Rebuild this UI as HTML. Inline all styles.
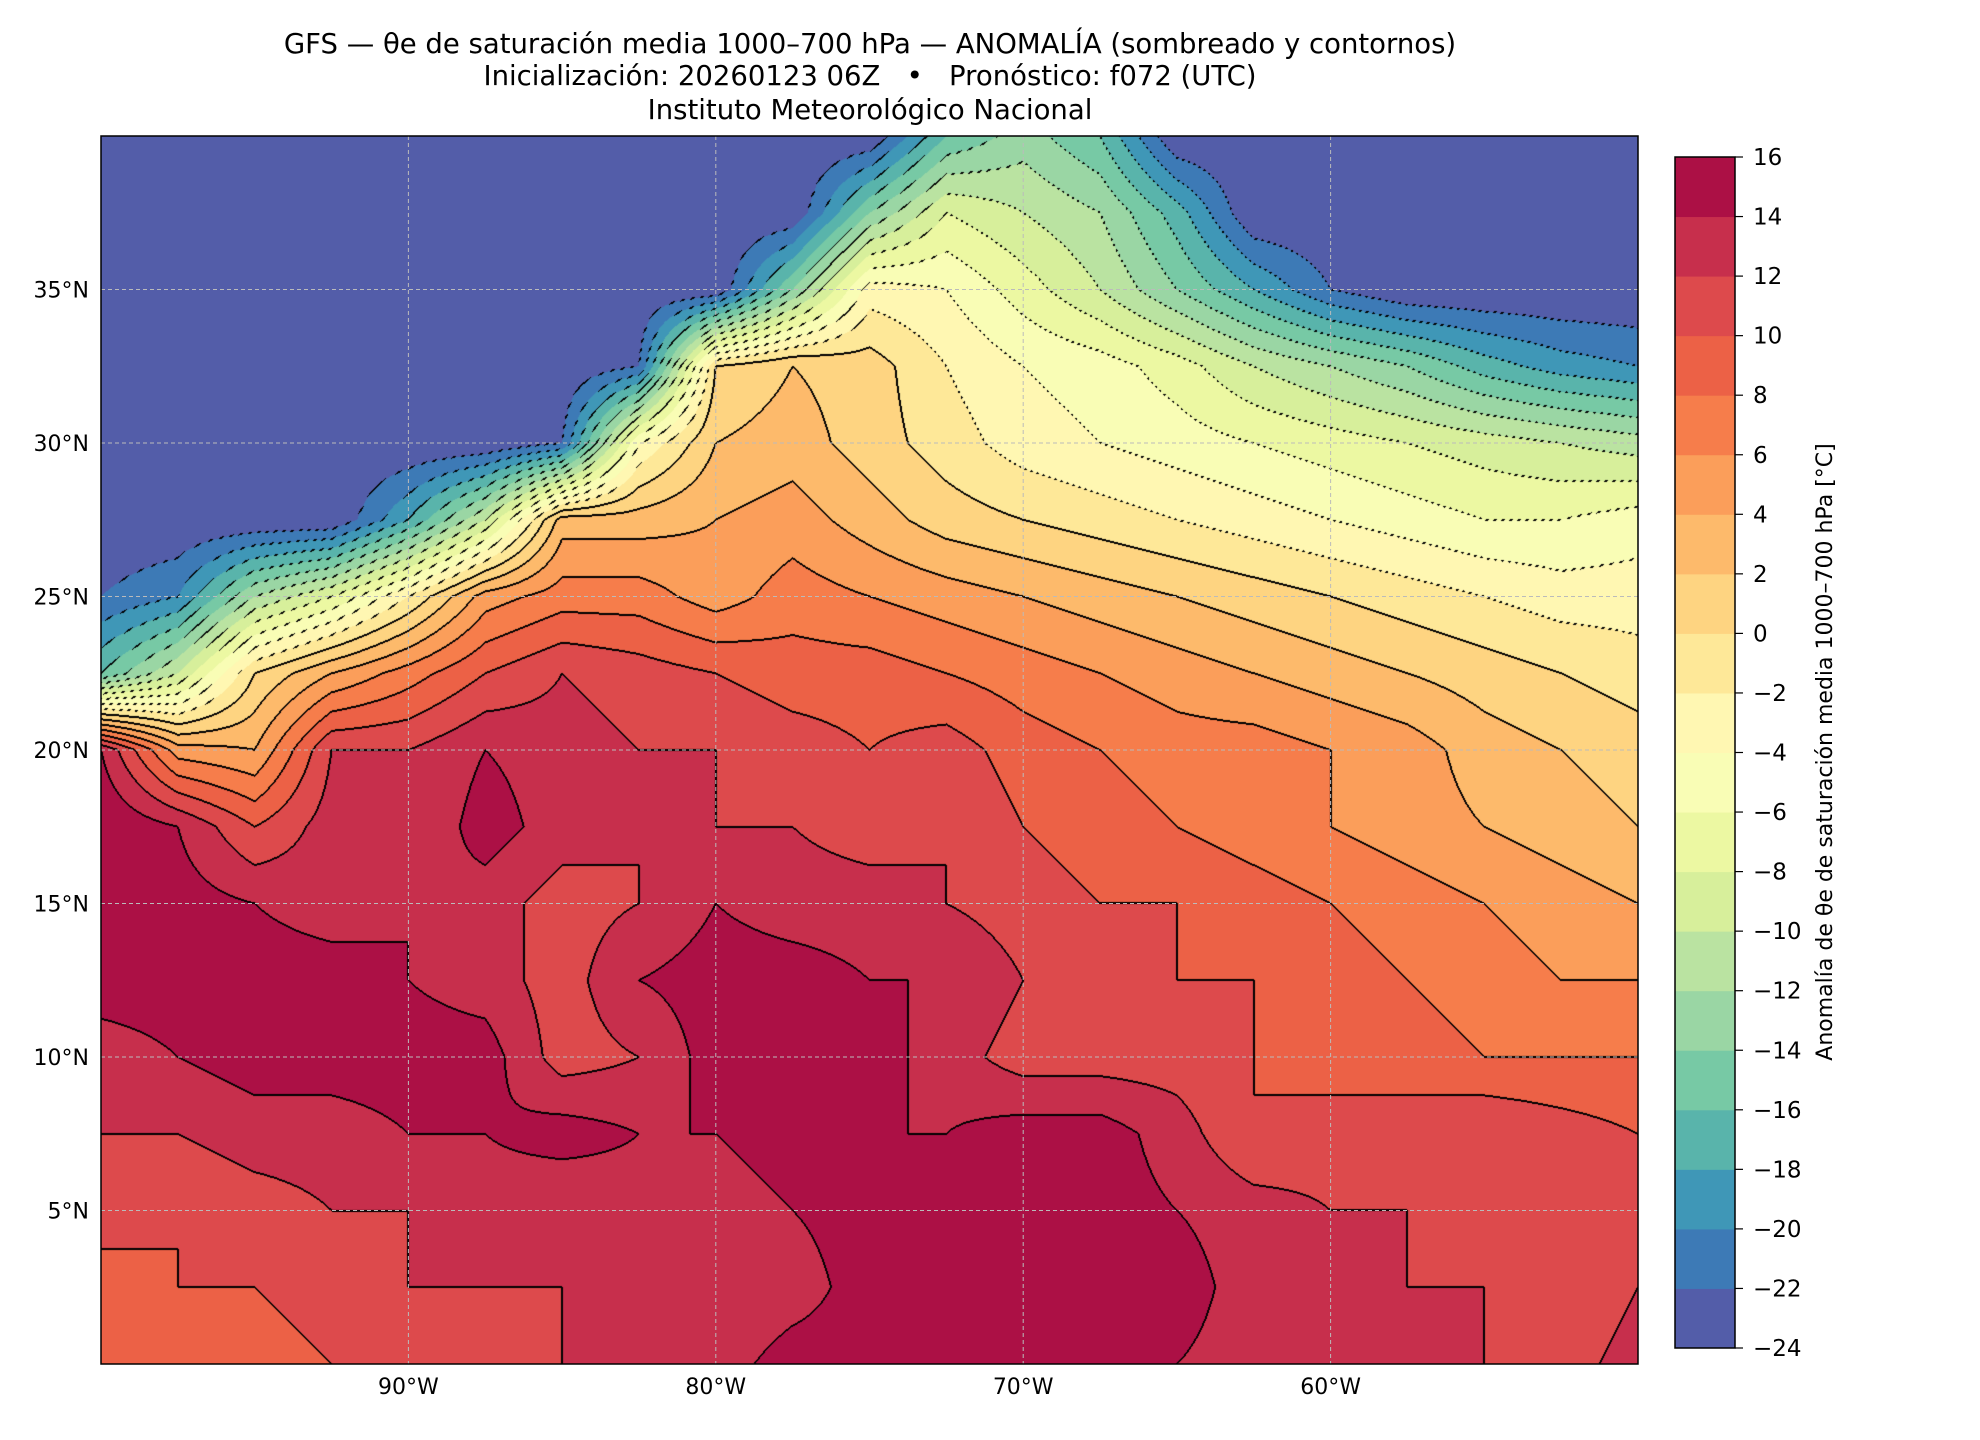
<!DOCTYPE html>
<html><head><meta charset="utf-8">
<style>
body{margin:0;background:#fff;width:1980px;height:1440px;position:relative;overflow:hidden;font-family:"DejaVu Sans","Liberation Sans",sans-serif;color:#000}
.t{position:absolute;left:0;width:1740px;text-align:center;font-size:27.5px;white-space:nowrap}
</style></head><body>
<div class="t" style="top:28px">GFS — θe de saturación media 1000–700 hPa — ANOMALÍA (sombreado y contornos)</div>
<div class="t" style="top:60px">Inicialización: 20260123 06Z &nbsp; • &nbsp; Pronóstico: f072 (UTC)</div>
<div class="t" style="top:94px">Instituto Meteorológico Nacional</div>
<canvas id="map" width="1537" height="1228" style="position:absolute;left:101px;top:136px"></canvas>
<svg id="ov" width="1980" height="1440" style="position:absolute;left:0;top:0"></svg>
<script>
// grid data: rows lat 40 -> 0 step 2.5, cols lon -100 -> -50 step 2.5
const lats=[40,37.5,35,32.5,30,27.5,25,22.5,20,17.5,15,12.5,10,7.5,5,2.5,0];
const lons=[-100,-97.5,-95,-92.5,-90,-87.5,-85,-82.5,-80,-77.5,-75,-72.5,-70,-67.5,-65,-62.5,-60,-57.5,-55,-52.5,-50];
const r40=[-24,-24,-24,-24,-24,-24,-24,-24,-24,-24,-24,-16,-13,-16,-24,-24,-24,-24,-24,-24,-24];
const r375=[-24,-24,-24,-24,-24,-24,-24,-24,-24,-24,-14,-8,-10,-12,-17,-24,-24,-24,-24,-24,-24];
const r35=[-24,-24,-24,-24,-24,-24,-24,-24,-24,-14,-3,-4,-7,-10,-14,-18,-22,-24,-24,-24,-24];
const r325=[-24,-24,-24,-24,-24,-24,-24,-22,0,2,1,-2,-4,-5,-7,-10,-12,-14,-17,-19,-20];
const r30=[-24,-24,-24,-24,-24,-24,-22,-4,2,3,1,-1,-3,-4,-5,-6,-7,-8,-9,-10,-11];
const r275=[-24,-24,-24,-24,-18,-10,3,3,4,5,3,1,0,-1,-2,-3,-4,-5,-6,-6,-5];
const r25=[-22,-20,-12,-8,-2,5,7,7,5,7,6,5,4,3,2,1,0,-1,-2,-3,-3];
const r225=[-16,-10,0,4,7,10,12,11,10,9,9,8,7,6,5,4,3,2,1,0,-1];
const r20=[14,5,4,12,12,14,13,12,12,11,10,11,9,8,7,7,6,5,3,2,1];
const r175=[16,14,10,13,12,15,13,12,12,12,11,12,10,9,8,7,6,5,4,3,2];
const r15=[15,15,14,13,14,13,11,12,14,13,13,12,11,10,10,9,8,7,6,5,4];
const r125=[15,15,15,15,14,13,11,14,15,15,14,14,12,11,10,10,9,8,7,6,6];
const r10=[13,14,15,15,15,15,11,12,15,15,15,13,11,11,11,10,9,9,8,8,8];
const r75=[12,12,13,13,14,14,15,14,14,15,14,14,15,15,13,10,11,11,12,11,10];
const r5=[11,10,11,12,12,13,12,13,13,14,15,15,15,15,14,13,12,12,11,10,11];
const r25b=[9,10,10,11,12,12,12,12,12,13,15,15,15,15,15,13,13,12,12,10,12];
const r0=[8,8,9,10,11,11,12,12,13,15,15,15,15,15,14,13,13,14,12,11,13];
const grid=[r40,r375,r35,r325,r30,r275,r25,r225,r20,r175,r15,r125,r10,r75,r5,r25b,r0];
const levels=[-24,-22,-20,-18,-16,-14,-12,-10,-8,-6,-4,-2,0,2,4,6,8,10,12,14,16];
const ticksCb=[16,14,12,10,8,6,4,2,0,-2,-4,-6,-8,-10,-12,-14,-16,-18,-20,-22,-24];
const latTicks=[35,30,25,20,15,10,5];
const lonTicks=[-90,-80,-70,-60];

const PX=101,PY=136,PW=1537,PH=1228;
const xOf=lon=>PX+(lon+100)/50*PW;
const yOf=lat=>PY+(40-lat)/40*PH;
const spec=[[158,1,66],[213,62,79],[244,109,67],[253,174,97],[254,224,139],[255,255,191],[230,245,152],[171,221,164],[102,194,165],[50,136,189],[94,79,162]];
function specCol(p){p=Math.max(0,Math.min(1,p))*10;const i=Math.min(9,Math.floor(p)),f=p-i;return spec[i].map((c,k)=>Math.round(c+(spec[i+1][k]-c)*f));}
const nb=levels.length-1;
const bandCols=[];for(let i=0;i<nb;i++){bandCols.push(specCol(1-(i+0.5)/nb));}
function val(lon,lat){
  const fx=(lon+100)/2.5, fy=(40-lat)/2.5;
  const i=Math.min(lons.length-2,Math.max(0,Math.floor(fx))), j=Math.min(lats.length-2,Math.max(0,Math.floor(fy)));
  const u=fx-i,v=fy-j;
  return grid[j][i]*(1-u)*(1-v)+grid[j][i+1]*u*(1-v)+grid[j+1][i]*(1-u)*v+grid[j+1][i+1]*u*v;
}
function band(v){let b=Math.floor((v-levels[0])/2);return Math.max(0,Math.min(nb-1,b));}
const cv=document.getElementById('map'),ctx=cv.getContext('2d');
const img=ctx.createImageData(PW,PH),d=img.data;
const B=new Int8Array(PW*PH);
for(let y=0;y<PH;y++){const lat=40-(y+0.5)/PH*40;for(let x=0;x<PW;x++){const lon=-100+(x+0.5)/PW*50;B[y*PW+x]=band(val(lon,lat));}}
for(let y=0;y<PH;y++)for(let x=0;x<PW;x++){
  const k=y*PW+x,b=B[k];let c=bandCols[b];
  let edge=-1;
  if(x<PW-1&&B[k+1]!==b)edge=Math.max(b,B[k+1]);
  else if(y<PH-1&&B[k+PW]!==b)edge=Math.max(b,B[k+PW]);
  else if(x>0&&B[k-1]!==b)edge=Math.max(b,B[k-1]);
  else if(y>0&&B[k-PW]!==b)edge=Math.max(b,B[k-PW]);
  if(edge>=0){const lv=levels[edge];if(lv>=0||((x+y)%8)<3)c=[0,0,0];}
  d[k*4]=c[0];d[k*4+1]=c[1];d[k*4+2]=c[2];d[k*4+3]=255;
}
ctx.putImageData(img,0,0);

const NS='http://www.w3.org/2000/svg',ov=document.getElementById('ov');
function mk(t,a,txt){const e=document.createElementNS(NS,t);for(const k in a)e.setAttribute(k,a[k]);if(txt!=null)e.textContent=txt;ov.appendChild(e);return e;}
latTicks.forEach(l=>{const y=yOf(l);
  const g=mk('line',{x1:PX,x2:PX+PW,y1:y,y2:y,stroke:'#bbb','stroke-width':1,'stroke-dasharray':'4,3'});
  
  
  const t=mk('text',{x:89,y:y+8,'text-anchor':'end','font-size':22,'font-family':'DejaVu Sans, sans-serif'},l+'°N');
  
  
});
lonTicks.forEach(l=>{const x=xOf(l);
  const g=mk('line',{x1:x,x2:x,y1:PY,y2:PY+PH,stroke:'#bbb','stroke-width':1,'stroke-dasharray':'4,3'});
  
  
  const t=mk('text',{x:x,y:1394,'text-anchor':'middle','font-size':22,'font-family':'DejaVu Sans, sans-serif'},(-l)+'°W');
  
  
});
const fr=mk('rect',{x:PX,y:PY,width:PW,height:PH,fill:'none',stroke:'#000','stroke-width':1.5});


// colorbar
const CX=1675,CW=60,CT=157,CB=1348;
const cy=v=>CB-(v-levels[0])/(levels[nb]-levels[0])*(CB-CT);
for(let i=0;i<nb;i++){const c=bandCols[i];
  const r=mk('rect',{x:CX,y:cy(levels[i+1]),width:CW,height:cy(levels[i])-cy(levels[i+1])+0.5,fill:`rgb(${c[0]},${c[1]},${c[2]})`});
  
  
}
const cf=mk('rect',{x:CX,y:CT,width:CW,height:CB-CT,fill:'none',stroke:'#000','stroke-width':1.5});


ticksCb.forEach(v=>{const y=cy(v);
  mk('line',{x1:CX+CW,x2:CX+CW+8,y1:y,y2:y,stroke:'#000','stroke-width':1.2});
  const t=mk('text',{x:1753,y:y+8,'font-size':23,'font-family':'DejaVu Sans, sans-serif'},v<0?'−'+(-v):String(v));
  
  
});
const cl=mk('text',{x:0,y:0,'font-size':22,'text-anchor':'middle','font-family':'DejaVu Sans, sans-serif',transform:'translate(1832,752) rotate(-90)'},'Anomalía de θe de saturación media 1000–700 hPa [°C]');


</script>
</body></html>
